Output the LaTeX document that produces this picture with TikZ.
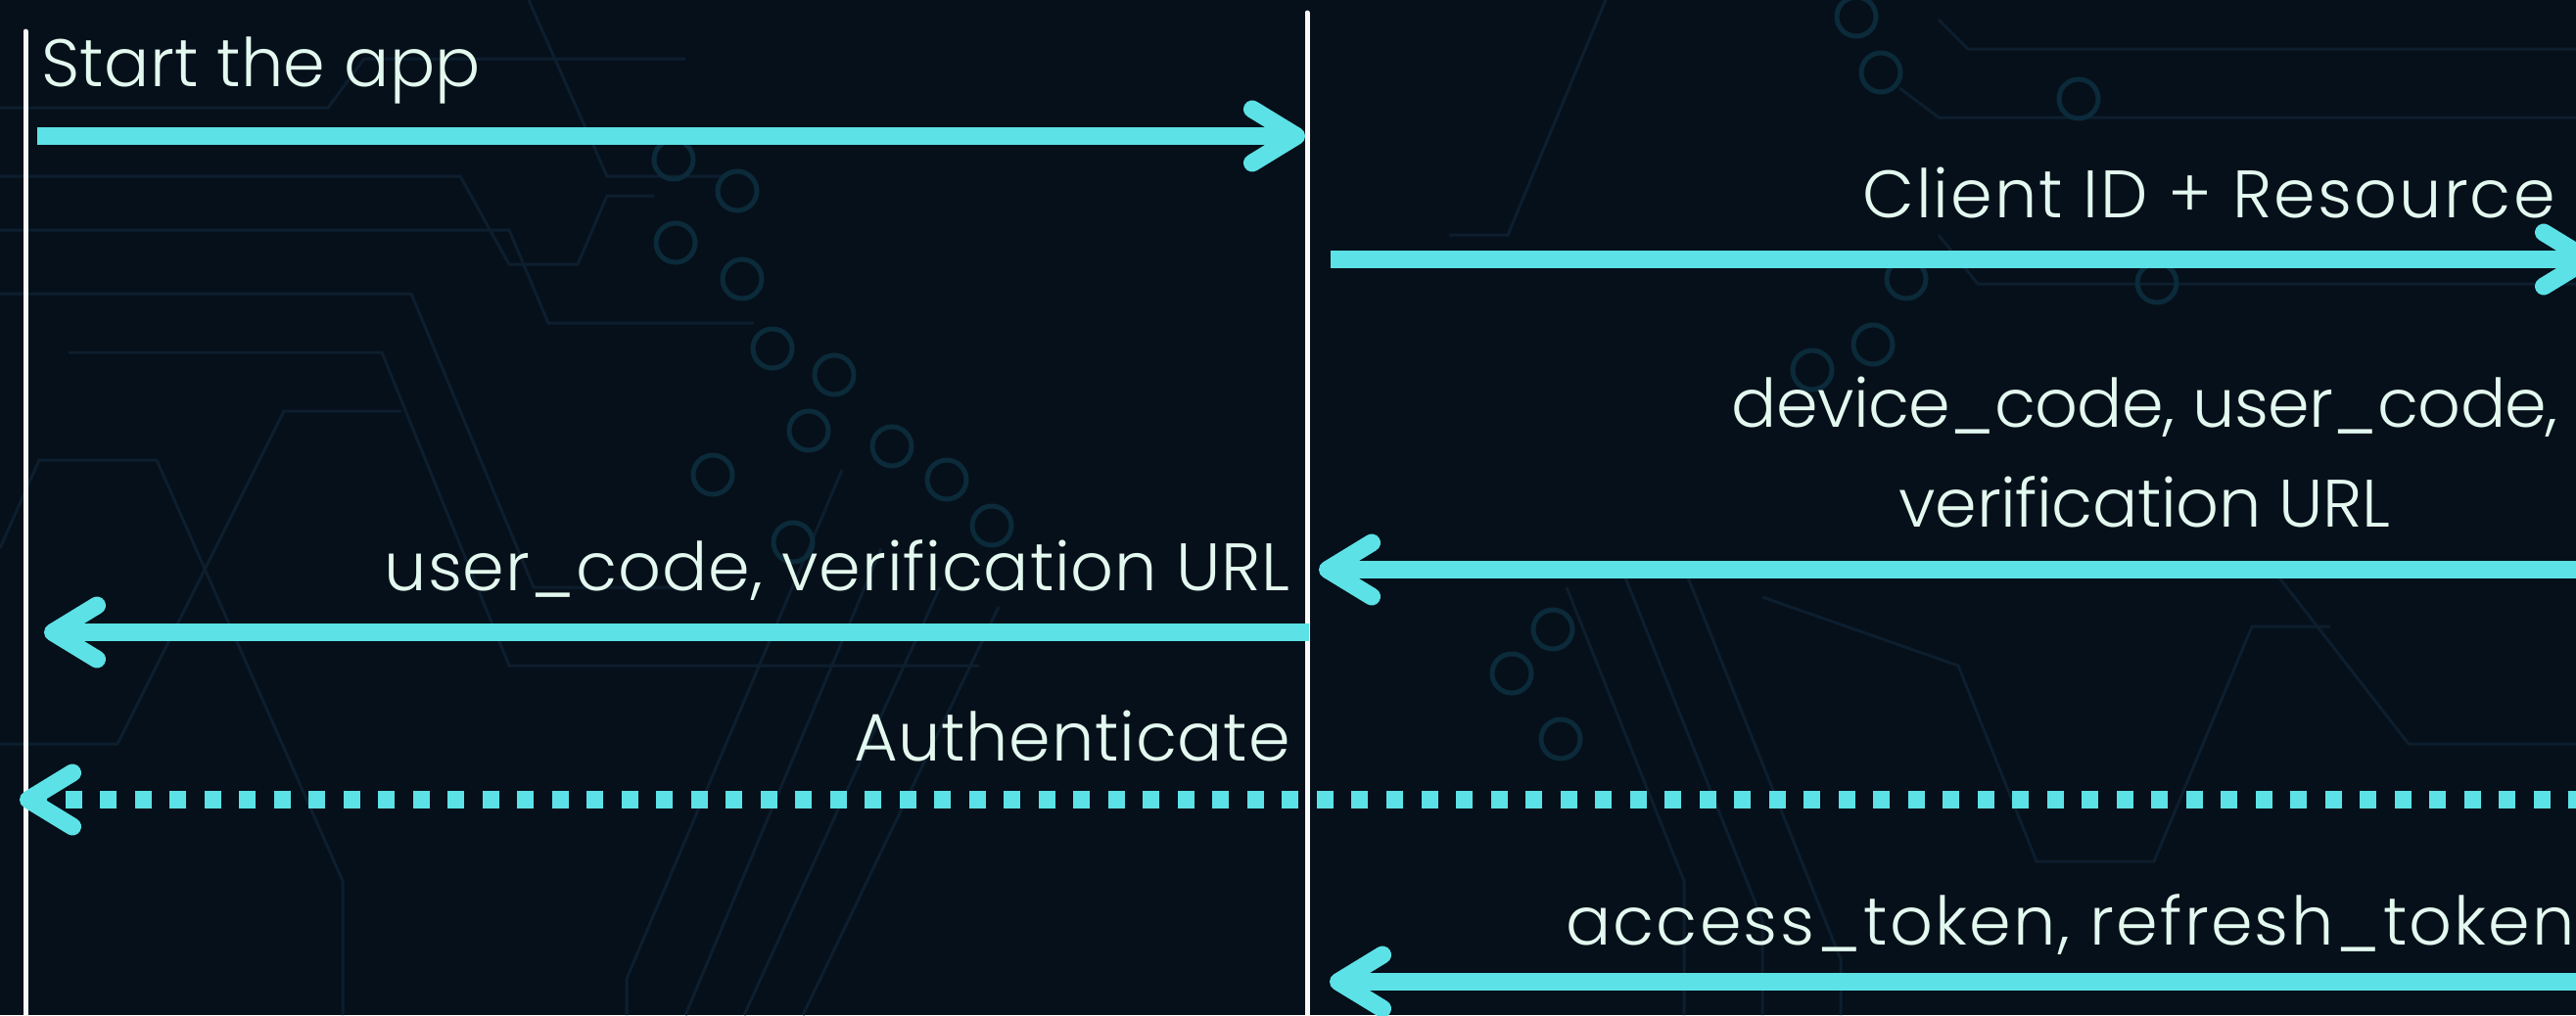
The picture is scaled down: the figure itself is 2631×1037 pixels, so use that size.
\documentclass[tikz,border=0pt]{standalone}
\usepackage{fontspec}
\setmainfont{Poppins}[UprightFont=* Light]
\usetikzlibrary{arrows.meta}
\definecolor{bgnavy}{HTML}{06101A}
\definecolor{flowcyan}{HTML}{5CE1E6}
\definecolor{labelmint}{HTML}{E3F9EF}
\definecolor{tracecol}{HTML}{0D1E2E}
\definecolor{padcol}{HTML}{0B2A3A}
\newcommand\lblfont[1]{\fontsize{39}{47}\selectfont\addfontfeatures{LetterSpace=#1}}
\tikzset{>={Straight Barb[length=9mm,width=11mm,round]}}
\tikzset{
  lifeline/.style={line width=1mm, white!95!gray, line cap=round},
  msg/.style={line width=3.6mm, flowcyan, ->},
  msgdots/.style={msg, dash pattern=on 3.4mm off 3.7mm, dash phase=3.1mm},
  lbl/.style={text=labelmint, inner sep=0pt, font=\lblfont{#1}},
  lbl/.default=0,
  trace/.style={line width=0.6mm, tracecol},
  pad/.style={line width=1mm, padcol},
}

\begin{document}
\begin{tikzpicture}[x=0.2mm, y=-0.2mm]
      % background
      \fill[bgnavy] (0,0) rectangle (2631,1037);
      \useasboundingbox (0,0) rectangle (2631,1037);
      \clip (0,0) rectangle (2631,1037);
      % circuit traces
      \draw[trace] (0,110) -- (335,110) -- (372,60) -- (700,60);
      \draw[trace] (0,180) -- (470,180) -- (520,270) -- (590,270) -- (620,200) -- (668,200);
      \draw[trace] (0,235) -- (520,235) -- (560,330) -- (770,330);
      \draw[trace] (0,300) -- (420,300) -- (545,600) -- (700,600);
      \draw[trace] (70,360) -- (390,360) -- (520,680) -- (1000,680);
      \draw[trace] (0,560) -- (40,470) -- (160,470) -- (350,900) -- (350,1037);
      \draw[trace] (0,760) -- (120,760) -- (290,420) -- (410,420);
      \draw[trace] (540,0) -- (620,180) -- (740,180);
      \draw[trace] (860,480) -- (640,1000) -- (640,1037);
      \draw[trace] (900,560) -- (700,1037);
      \draw[trace] (960,600) -- (760,1037);
      \draw[trace] (1020,620) -- (820,1037);
      \draw[trace] (1640,0) -- (1540,240) -- (1480,240);
      \draw[trace] (1980,20) -- (2010,50) -- (2631,50);
      \draw[trace] (1940,90) -- (1980,120) -- (2631,120);
      \draw[trace] (1980,240) -- (2020,290) -- (2631,290);
      \draw[trace] (1600,600) -- (1720,900) -- (1720,1037);
      \draw[trace] (1660,590) -- (1800,940) -- (1800,1037);
      \draw[trace] (1720,580) -- (1880,980) -- (1880,1037);
      \draw[trace] (1800,610) -- (2000,680) -- (2080,880) -- (2200,880) -- (2300,640) -- (2380,640);
      \draw[trace] (2320,580) -- (2460,760) -- (2631,760);
      % circuit pads
      \foreach \px/\py in {688/163, 753/195, 690/248, 758/285, 789/356, 852/383,
          826/440, 911/456, 967/490, 1013/537, 728/485, 810/554,
          1896/17, 1921/74, 2123/101, 2203/289, 1947/285, 1913/352, 1851/378,
          1586/643, 1544/688, 1594/755}
        \draw[pad] (\px,\py) circle (20);
      % lifelines
      \coordinate (userTop) at (26,32);
      \coordinate (userBot) at (26,1045);
      \coordinate (appTop) at (1335,13);
      \coordinate (appBot) at (1335,1045);
      \draw[lifeline] (userTop) -- (userBot);
      \draw[lifeline] (appTop) -- (appBot);
      % message ends
      \coordinate (startU) at (38,139);
      \coordinate (startA) at (1333,139);
      \coordinate (reqA) at (1359,265);
      \coordinate (reqI) at (2652,265);
      \coordinate (codeI) at (2660,582);
      \coordinate (codeA) at (1347,582);
      \coordinate (showA) at (1337,646);
      \coordinate (showU) at (45,646);
      \coordinate (authI) at (2660,817);
      \coordinate (authU) at (20,817);
      \coordinate (tokI) at (2660,1003);
      \coordinate (tokA) at (1358,1003);
      % messages
      \draw[msg] (startU) -- (startA);
      \draw[msg] (reqA) -- (reqI);
      \draw[msg] (codeI) -- (codeA);
      \draw[msg] (showA) -- (showU);
      \draw[msgdots] (authI) -- (authU);
      \draw[msg] (tokI) -- (tokA);
      % labels
      \node[lbl=0.4, anchor=base west] (startLbl) at (42,88) {Start the app};
      \node[lbl=3.0, anchor=base east] (reqLbl) at (2610,222) {Client ID + Resource};
      \node[lbl=-0.9, anchor=base east] (codeLbl) at (2613,436) {device\_code, user\_code,};
      \node[lbl=-0.6, anchor=base] (urlLbl) at (codeLbl.base |- 0,538) {verification URL};
      \node[lbl=1.2, anchor=base east] (showLbl) at (1318,603) {user\_code, verification URL};
      \node[lbl=1.1, anchor=base east] (authLbl) at (1318,777) {Authenticate};
      \node[lbl=3.2, anchor=base west] (tokLbl) at (1599,965) {access\_token, refresh\_token};
\end{tikzpicture}
\end{document}
